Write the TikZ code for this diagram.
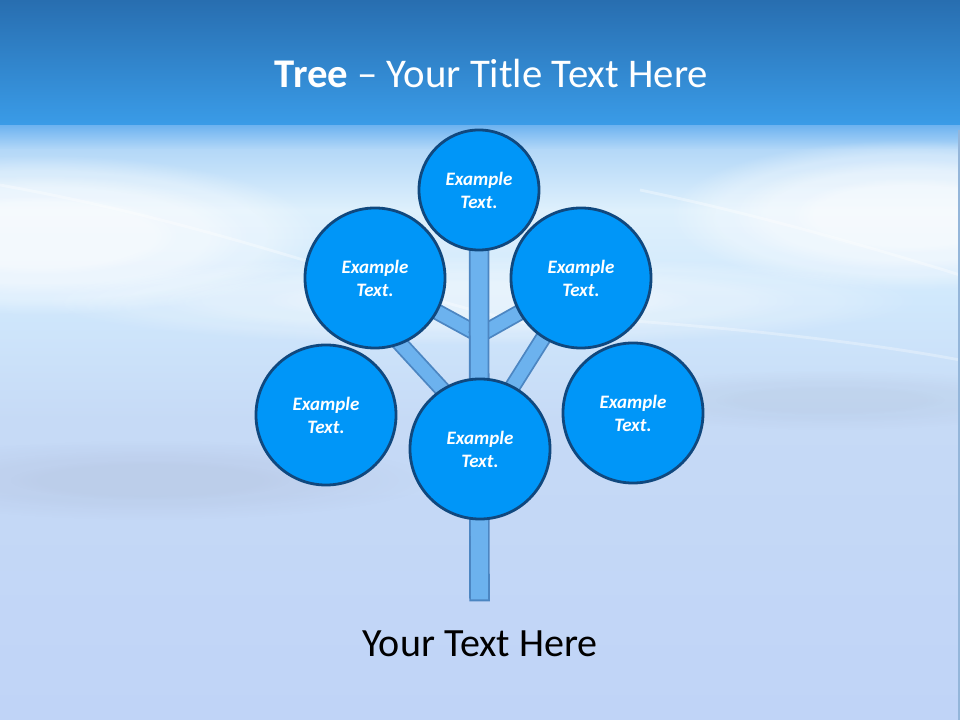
\documentclass[tikz,border=0pt]{standalone}
\usepackage{fontspec}
\setmainfont{Carlito}
\usepackage{xcolor}
\usetikzlibrary{fadings,backgrounds}

\definecolor{bandtop}{RGB}{40,110,176}
\definecolor{bandbot}{RGB}{58,156,232}
\definecolor{skyA}{RGB}{112,180,240}
\definecolor{skyB}{RGB}{180,216,248}
\definecolor{skyC}{RGB}{222,240,252}
\definecolor{skyD}{RGB}{208,232,252}
\definecolor{skyE}{RGB}{198,218,246}
\definecolor{skyF}{RGB}{192,212,247}
\definecolor{streak}{RGB}{160,170,195}
\definecolor{bubble}{RGB}{0,150,248}
\definecolor{bubbleline}{RGB}{16,72,126}
\definecolor{limb}{RGB}{108,178,238}
\definecolor{limbline}{RGB}{76,134,194}

\pgfdeclarelayer{sky}
\pgfsetlayers{sky,background,main}

\tikzset{
  bubble/.style={circle, draw=bubbleline, line width=2pt, fill=bubble,
    minimum size=#1, inner sep=0pt, align=center, text=white,
    font=\fontsize{13.5}{16.3}\selectfont\bfseries\itshape},
  limb/.style={draw=limbline, line width=1.3pt, double=limb,
    double distance=#1, line cap=rect},
  glow/.style={white, path fading=circle with fuzzy edge 20 percent}
}

\begin{document}
\begin{tikzpicture}[x=0.025cm, y=-0.025cm]
\newcommand{\bigsize}{3.5cm}
\newcommand{\topsize}{3cm}
\useasboundingbox (0,0) rectangle (960,720);
% titles
\node[text=white, font=\fontsize{29}{34}\selectfont, anchor=base] (title) at (491.5,88)
  {\textbf{Tree} -- Your Title Text Here};
\node[text=black, font=\fontsize{28.5}{32}\selectfont, anchor=base] (caption) at (480,656)
  {Your Text Here};
% tree
\node[bubble=\topsize] (crown) at (479,190) {Example\\Text.};
\node[bubble=\bigsize] (upleft) at (375,278) {Example\\Text.};
\node[bubble=\bigsize] (upright) at (581,278) {Example\\Text.};
\node[bubble=\bigsize] (lowleft) at (326,415) {Example\\Text.};
\node[bubble=\bigsize] (heart) at (480,449) {Example\\Text.};
\node[bubble=\bigsize] (lowright) at (633,413) {Example\\Text.};
\coordinate (root) at (479.5,591);
\coordinate (forkhigh) at (479.5,335);
\coordinate (forklowl) at (479.5,430);
\coordinate (forklowr) at (479.5,439);
\coordinate (twigend) at (372,313);
\begin{pgfonlayer}{background}
  \draw[limb=9.2pt] (forklowl) -- (twigend);
  \draw[limb=9.2pt] (forklowr) -- (upright.center);
  \draw[limb=9.2pt] (forkhigh) -- (upleft.center);
  \draw[limb=9.2pt] (forkhigh) -- (upright.center);
  \draw[limb=12pt] (root) -- (crown.center);
\end{pgfonlayer}
% background
\begin{pgfonlayer}{sky}
\fill[top color=bandtop, bottom color=bandbot] (0,0) rectangle (960,126);
\fill[top color=skyA, bottom color=skyB] (0,126) rectangle (960,150);
\fill[top color=skyB, bottom color=skyC] (0,150) rectangle (960,210);
\fill[top color=skyC, bottom color=skyD] (0,210) rectangle (960,300);
\fill[top color=skyD, bottom color=skyE] (0,300) rectangle (960,420);
\fill[top color=skyE, bottom color=skyF] (0,420) rectangle (960,720);
\foreach \s in {1,0.75,0.5} {
  \fill[glow, opacity=0.35] (40,235) ellipse ({280*\s} and {80*\s});
  \fill[glow, opacity=0.35] (910,215) ellipse ({240*\s} and {75*\s});
  \fill[glow, opacity=0.2] (480,300) ellipse ({440*\s} and {45*\s});
  \fill[streak, path fading=circle with fuzzy edge 20 percent, opacity=0.07]
    (150,480) ellipse ({280*\s} and {40*\s});
  \fill[streak, path fading=circle with fuzzy edge 20 percent, opacity=0.06]
    (830,400) ellipse ({230*\s} and {30*\s});
}
\draw[white, opacity=0.35, line width=2pt] (0,185) .. controls (250,230) and (400,300) .. (560,330);
\draw[white, opacity=0.35, line width=2pt] (640,190) .. controls (760,215) and (880,250) .. (960,275);
\draw[white, opacity=0.3, line width=2pt] (620,320) .. controls (760,330) and (880,345) .. (960,360);
\draw[limbline!60, line width=1pt] (959,130) -- (959,720);
\end{pgfonlayer}
\end{tikzpicture}
\end{document}
